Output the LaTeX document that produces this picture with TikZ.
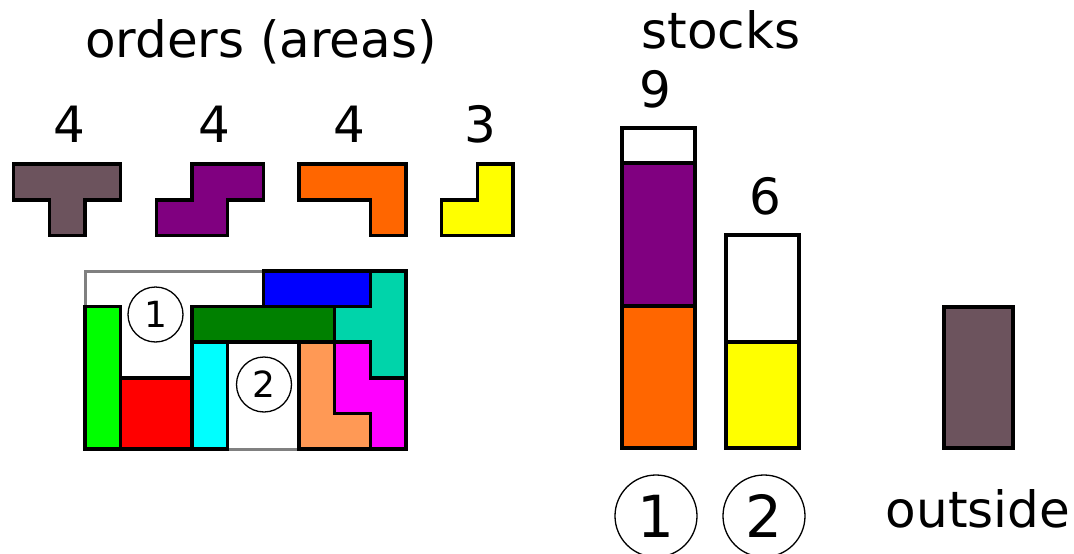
\documentclass[tikz,border=0pt]{standalone}
\usepackage{fontspec}
\setmainfont{DejaVu Sans}
\definecolor{tbrown}{HTML}{6C535D}
\definecolor{spurple}{HTML}{800080}
\definecolor{lorange}{HTML}{FF6600}
\definecolor{dgreen}{HTML}{008000}
\definecolor{teal2}{HTML}{00D4AA}
\definecolor{peach}{HTML}{FF9955}
\definecolor{pgreen}{HTML}{00FF00}
\definecolor{pred}{HTML}{FF0000}
\definecolor{pcyan}{HTML}{00FFFF}
\definecolor{pblue}{HTML}{0000FF}
\definecolor{pmagenta}{HTML}{FF00FF}
\definecolor{pyellow}{HTML}{FFFF00}
\begin{document}
\begin{tikzpicture}[x=1pt,y=-1pt,
  piece/.style={draw=black,line width=3.5pt,line join=miter},
  lbl/.style={anchor=base,inner sep=0pt,font=\fontsize{50}{60}\selectfont},
  num/.style={circle,draw=black,line width=1.3pt,inner sep=0pt,minimum size=55pt,font=\fontsize{36}{40}\selectfont},
  bignum/.style={circle,draw=black,line width=1.3pt,inner sep=0pt,minimum size=82pt,font=\fontsize{58}{60}\selectfont}]
\useasboundingbox (0,0) rectangle (1074,554);
\fill[white] (0,0) rectangle (1074,554);

% packing grid
\begin{scope}[shift={(85,271)},x=35.67pt,y=-35.6pt]
  \draw[gray,line width=3pt,fill=white] (0,0) rectangle (9,5);
  \filldraw[piece,fill=pgreen] (0,1) rectangle (1,5);
  \filldraw[piece,fill=pred] (1,3) rectangle (3,5);
  \filldraw[piece,fill=pcyan] (3,2) rectangle (4,5);
  \filldraw[piece,fill=dgreen] (3,1) rectangle (7,2);
  \filldraw[piece,fill=pblue] (5,0) rectangle (8,1);
  \filldraw[piece,fill=teal2] (8,0)--(9,0)--(9,3)--(8,3)--(8,2)--(7,2)--(7,1)--(8,1)--cycle;
  \filldraw[piece,fill=peach] (6,2)--(7,2)--(7,4)--(8,4)--(8,5)--(6,5)--cycle;
  \filldraw[piece,fill=pmagenta] (7,2)--(8,2)--(8,3)--(9,3)--(9,5)--(8,5)--(8,4)--(7,4)--cycle;
  % order pieces
  \filldraw[piece,fill=tbrown] (-2,-3)--(1,-3)--(1,-2)--(0,-2)--(0,-1)--(-1,-1)--(-1,-2)--(-2,-2)--cycle;
  \filldraw[piece,fill=spurple] (3,-3)--(5,-3)--(5,-2)--(4,-2)--(4,-1)--(2,-1)--(2,-2)--(3,-2)--cycle;
  \filldraw[piece,fill=lorange] (6,-3)--(9,-3)--(9,-1)--(8,-1)--(8,-2)--(6,-2)--cycle;
  \filldraw[piece,fill=pyellow] (11,-3)--(12,-3)--(12,-1)--(10,-1)--(10,-2)--(11,-2)--cycle;
\end{scope}

\node[num,fill=white] (c1) at (155.5,314.5) {1};
\node[num,fill=white] (c2) at (264,384.5) {2};

% labels
\node[lbl] (title) at (261,57) {orders (areas)};
\node[lbl] (a1) at (69,142) {4};
\node[lbl] (a2) at (214,142) {4};
\node[lbl] (a3) at (349,142) {4};
\node[lbl] (a4) at (480,142) {3};

% stocks
\node[lbl] (stocks) at (721,48) {stocks};
\node[lbl] (s1) at (655,107) {9};
\node[lbl] (s2) at (765,214) {6};
\filldraw[piece,fill=white] (622,128) rectangle (695,163);
\filldraw[piece,fill=spurple] (622,163) rectangle (695,306);
\filldraw[piece,fill=lorange] (622,306) rectangle (695,448);
\filldraw[piece,fill=white] (726,235) rectangle (799,342);
\filldraw[piece,fill=pyellow] (726,342) rectangle (799,448);

% outside
\filldraw[piece,fill=tbrown] (944,307) rectangle (1013,448);
\node[lbl] (outside) at (978,527) {outside};

\node[bignum] (b1) at (656,516) {1};
\node[bignum] (b2) at (764,516) {2};
\end{tikzpicture}
\end{document}
